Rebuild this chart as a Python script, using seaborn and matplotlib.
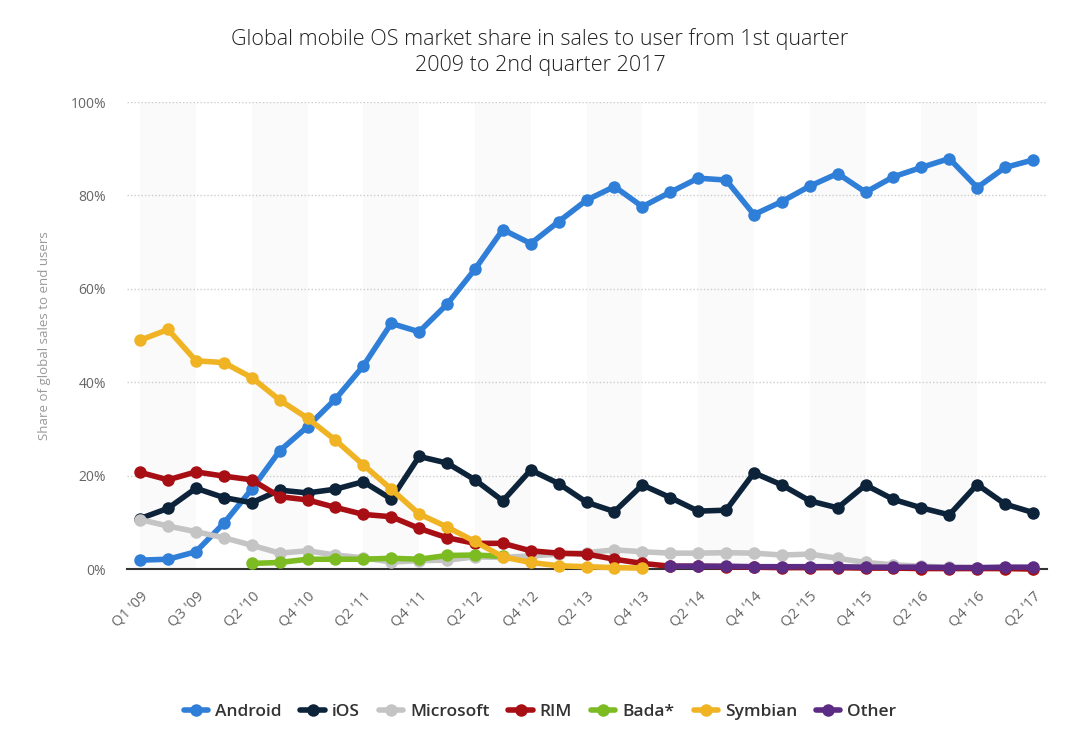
import matplotlib
matplotlib.use("Agg")
import matplotlib.pyplot as plt
import numpy as np
import pandas as pd
import seaborn as sns

# quarters (Q1 '10 is not in the data set)
quarters = ["Q1 '09", "Q2 '09", "Q3 '09", "Q4 '09",
            "Q2 '10", "Q3 '10", "Q4 '10",
            "Q1 '11", "Q2 '11", "Q3 '11", "Q4 '11",
            "Q1 '12", "Q2 '12", "Q3 '12", "Q4 '12",
            "Q1 '13", "Q2 '13", "Q3 '13", "Q4 '13",
            "Q1 '14", "Q2 '14", "Q3 '14", "Q4 '14",
            "Q1 '15", "Q2 '15", "Q3 '15", "Q4 '15",
            "Q1 '16", "Q2 '16", "Q3 '16", "Q4 '16",
            "Q1 '17", "Q2 '17"]

N = None
android = [1.9, 2.1, 3.7, 9.8, 17.1, 25.3, 30.5, 36.4, 43.5, 52.6, 50.8,
           56.7, 64.2, 72.7, 69.7, 74.4, 79.0, 81.9, 77.6, 80.7, 83.7, 83.3,
           75.9, 78.7, 82.0, 84.7, 80.7, 84.0, 86.0, 87.9, 81.7, 86.0, 87.6]
ios = [10.8, 13.0, 17.3, 15.3, 14.2, 16.9, 16.3, 17.1, 18.7, 15.0, 24.1,
       22.7, 19.1, 14.6, 21.2, 18.3, 14.3, 12.3, 18.0, 15.3, 12.4, 12.6,
       20.6, 18.0, 14.6, 13.1, 18.0, 14.9, 13.1, 11.6, 18.1, 13.9, 12.1]
microsoft = [10.6, 9.2, 8.0, 6.7, 5.1, 3.4, 3.9, 3.0, 2.4, 1.5, 1.8,
             1.9, 2.6, 2.5, 2.8, 3.2, 3.5, 4.1, 3.7, 3.4, 3.4, 3.5,
             3.4, 3.0, 3.2, 2.3, 1.4, 0.9, 0.6, 0.4, 0.3, 0.2, 0.1]
rim = [20.7, 19.1, 20.8, 19.9, 19.1, 15.5, 14.8, 13.2, 11.7, 11.2, 8.7,
       6.7, 5.5, 5.5, 3.9, 3.4, 3.2, 2.1, 1.2, 0.6, 0.6, 0.5,
       0.4, 0.3, 0.3, 0.3, 0.2, 0.2, 0.1, 0.1, 0.1, 0.1, 0.0]
bada = [N, N, N, N, 1.2, 1.4, 2.1, 2.1, 2.1, 2.3, 2.1,
        2.9, 3.0, 2.7, N, N, N, N, N, N, N, N,
        N, N, N, N, N, N, N, N, N, N, N]
symbian = [49.0, 51.3, 44.6, 44.2, 41.0, 36.2, 32.3, 27.6, 22.3, 17.1, 11.8,
           9.0, 5.9, 2.6, 1.4, 0.7, 0.5, 0.3, 0.2, N, N, N,
           N, N, N, N, N, N, N, N, N, N, N]
other = [N, N, N, N, N, N, N, N, N, N, N,
         N, N, N, N, N, N, N, N, 0.6, 0.6, 0.6,
         0.5, 0.5, 0.5, 0.5, 0.4, 0.4, 0.4, 0.3, 0.3, 0.4, 0.4]

series = {
    "Android": android,
    "iOS": ios,
    "Microsoft": microsoft,
    "RIM": rim,
    "Bada*": bada,
    "Symbian": symbian,
    "Other": other,
}
colors = ["#2f7ed8", "#0d233a", "#c4c4c4", "#a80f14", "#7cbb22", "#f0b323", "#5c2b83"]

rows = []
for name, values in series.items():
    for i, v in enumerate(values):
        if v is not None:
            rows.append({"idx": i, "quarter": quarters[i], "share": v, "os": name})
df = pd.DataFrame(rows)

sns.set_style("white")
plt.rcParams["font.family"] = ["Open Sans", "DejaVu Sans"]

fig = plt.figure(figsize=(10.8, 7.45), dpi=100)
ax = fig.add_axes([0.1176, 0.2362, 0.8518, 0.6268])

# alternating background bands
for i in range(0, len(quarters) - 1, 4):
    ax.axvspan(i, i + 2, color="#fafafa", zorder=0, lw=0)

sns.lineplot(
    data=df, x="idx", y="share", hue="os", hue_order=list(series.keys()),
    palette=colors, marker="o", markersize=9, markeredgewidth=0,
    linewidth=4, ax=ax, legend=True, zorder=3,
)
for line in ax.lines:
    line.set_clip_on(False)

ax.set_xlim(-0.47, 32.5)
ax.set_ylim(0, 100)
ax.set_yticks([0, 20, 40, 60, 80, 100])
ax.set_yticklabels(["0%", "20%", "40%", "60%", "80%", "100%"], color="#666666", fontsize=10)
ax.yaxis.grid(True, linestyle=(0, (1, 1.5)), color="#cccccc", linewidth=1)
ax.set_axisbelow(True)
ticks = list(range(0, len(quarters), 2))
ax.set_xticks(ticks)
ax.set_xticklabels([quarters[i] for i in ticks], rotation=45, ha="right",
                   rotation_mode="anchor", color="#666666", fontsize=10.5)
ax.tick_params(axis="y", length=0, pad=15)
ax.tick_params(axis="x", length=0, pad=14)
for s in ["top", "right", "left"]:
    ax.spines[s].set_visible(False)
ax.spines["bottom"].set_color("#333333")
ax.spines["bottom"].set_linewidth(1.5)
ax.spines["bottom"].set_zorder(2)

ax.set_xlabel("")
ax.set_ylabel("Share of global sales to end users", color="#999999", fontsize=9.5, labelpad=14)

handles, labels = ax.get_legend_handles_labels()
ax.legend_.remove()
fig.legend(handles, labels, loc="center", bbox_to_anchor=(0.5, 0.044), ncol=7,
           frameon=False, handlelength=1.4, columnspacing=1.1,
           handletextpad=0.4, labelcolor="#333333",
           prop={"weight": "semibold", "size": 12.5})

fig.text(0.5, 0.93, "Global mobile OS market share in sales to user from 1st quarter\n2009 to 2nd quarter 2017",
         ha="center", va="center", fontsize=15.5, color="#222222", linespacing=1.35,
         fontweight="light")

fig.savefig("out.png", dpi=100)
